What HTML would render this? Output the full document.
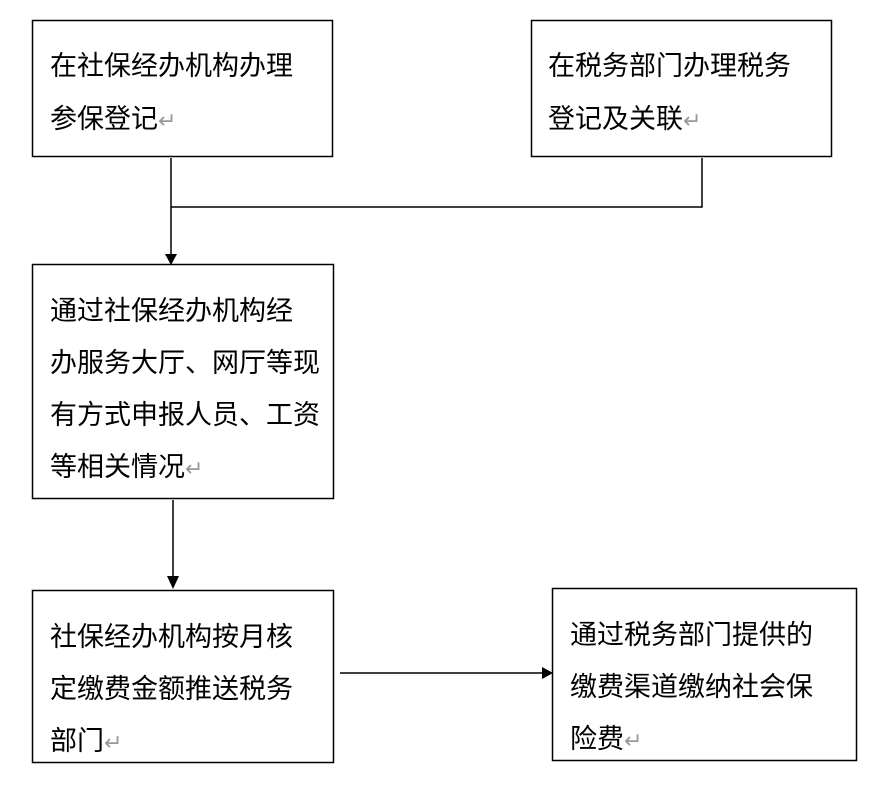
<!DOCTYPE html>
<html><head><meta charset="utf-8"><style>
html,body{margin:0;padding:0;background:#fff}
svg text{font-family:"Liberation Sans","Noto Sans CJK SC",sans-serif;font-size:27px;fill:#000}
.r{fill:#999;font-size:22px}
</style></head><body>
<svg width="873" height="780" viewBox="0 0 873 780" xmlns="http://www.w3.org/2000/svg">
<g fill="none" stroke="#000" stroke-width="1.5">
<rect x="32.5" y="20.5" width="300" height="136"/>
<rect x="531.5" y="20.5" width="300" height="136"/>
<rect x="32.5" y="264.5" width="301" height="234"/>
<rect x="32.5" y="590.5" width="301" height="172"/>
<rect x="552.5" y="588.5" width="304" height="172"/>
<path d="M171 158V256M171 207H702V158M173 500V580M340 673H544"/>
</g>
<g fill="#000">
<path d="M165 254L177 254L171 265Z"/>
<path d="M167 576L179 576L173 589Z"/>
<path d="M542 667L542 679L553 673Z"/>
</g>
<text x="50" y="75">在社保经办机构办理</text>
<text x="50" y="128">参保登记<tspan class="r">↵</tspan></text>
<text x="548" y="75">在税务部门办理税务</text>
<text x="548" y="128">登记及关联<tspan class="r">↵</tspan></text>
<text x="50" y="320">通过社保经办机构经</text>
<text x="50" y="372">办服务大厅、网厅等现</text>
<text x="50" y="424">有方式申报人员、工资</text>
<text x="50" y="476">等相关情况<tspan class="r">↵</tspan></text>
<text x="50" y="646">社保经办机构按月核</text>
<text x="50" y="698">定缴费金额推送税务</text>
<text x="50" y="750">部门<tspan class="r">↵</tspan></text>
<text x="570" y="644">通过税务部门提供的</text>
<text x="570" y="696">缴费渠道缴纳社会保</text>
<text x="570" y="748">险费<tspan class="r">↵</tspan></text>
</svg>
</body></html>
